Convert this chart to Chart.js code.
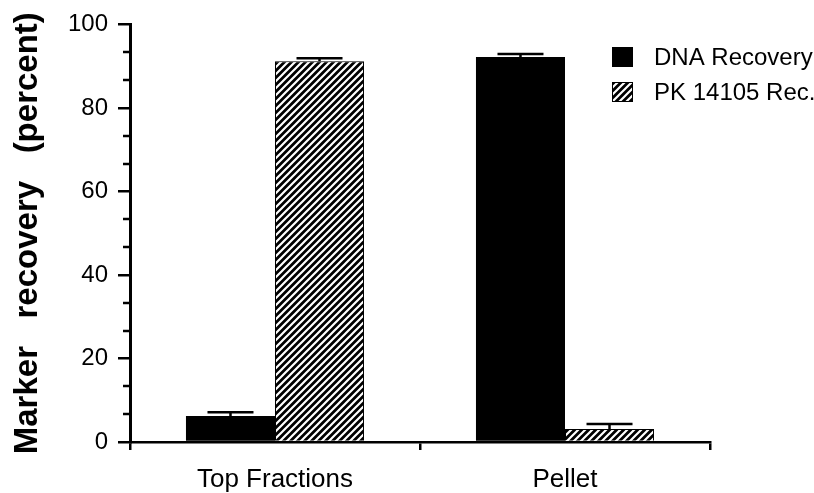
<!DOCTYPE html>
<html>
<head>
<meta charset="utf-8">
<script src="https://cdn.jsdelivr.net/npm/chart.js@4"></script>
<style>
  html, body { margin: 0; padding: 0; background: #fff; }
  #wrap { width: 814px; height: 493px; position: relative; }
</style>
</head>
<body>
<div id="wrap"><canvas id="c" width="814" height="493"></canvas></div>
<script>
// ---- data ----
const categories = ["Top Fractions", "Pellet"];
const seriesNames = ["DNA Recovery", "PK 14105 Rec."];
const dnaRecovery = [6.2, 92.2];
const dnaError = [0.9, 0.7];
const pkRecovery = [91.2, 3.1];
const pkError = [0.7, 1.2];
const yTicks = [0, 20, 40, 60, 80, 100];
const yMinorTicks = [6.67, 13.33, 26.67, 33.33, 46.67, 53.33, 66.67, 73.33, 86.67, 93.33];
const yTitle = "Marker   recovery   (percent)";

// ---- hatch pattern ----
function makeHatch() {
  const s = 7;
  const pc = document.createElement('canvas');
  pc.width = s; pc.height = s;
  const p = pc.getContext('2d');
  p.fillStyle = '#000';
  p.fillRect(0, 0, s, s);
  p.strokeStyle = '#fff';
  p.lineWidth = 2.2;
  p.beginPath();
  p.moveTo(-1, s + 1); p.lineTo(s + 1, -1);
  p.moveTo(-1, 1); p.lineTo(1, -1);
  p.moveTo(s - 1, s + 1); p.lineTo(s + 1, s - 1);
  p.stroke();
  return p.createPattern(pc, 'repeat');
}
const ctx = document.getElementById('c').getContext('2d');
const hatch = makeHatch();
const errors = [dnaError, pkError];

const errorBarPlugin = {
  id: 'errorBars',
  afterDatasetsDraw(chart) {
    const c = chart.ctx;
    const ys = chart.scales.y;
    c.save();
    c.strokeStyle = '#000';
    c.lineWidth = 2.5;
    chart.data.datasets.forEach((ds, i) => {
      const meta = chart.getDatasetMeta(i);
      meta.data.forEach((el, j) => {
        const top = ys.getPixelForValue(ds.data[j] + errors[i][j]);
        c.beginPath();
        c.moveTo(el.x, el.y);
        c.lineTo(el.x, top);
        c.moveTo(el.x - 23, top);
        c.lineTo(el.x + 23, top);
        c.stroke();
      });
    });
    c.restore();
  }
};

const minorTickPlugin = {
  id: 'minorTicks',
  afterDraw(chart) {
    const c = chart.ctx;
    const ys = chart.scales.y;
    const x = chart.chartArea.left;
    c.save();
    c.strokeStyle = '#000';
    c.lineWidth = 2.5;
    yMinorTicks.forEach(v => {
      const y = Math.round(ys.getPixelForValue(v));
      c.beginPath();
      c.moveTo(x - 7, y);
      c.lineTo(x, y);
      c.stroke();
    });
    c.restore();
  }
};

const legendPlugin = {
  id: 'customLegend',
  afterDraw(chart) {
    const c = chart.ctx;
    c.save();
    c.font = '24px "Liberation Sans", Arial, sans-serif';
    c.textBaseline = 'middle';
    chart.data.datasets.forEach((ds, i) => {
      const cy = 57 + i * 35;
      c.fillStyle = ds.backgroundColor;
      c.fillRect(612, cy - 10, 21, 20);
      c.strokeStyle = '#000';
      c.lineWidth = 1;
      c.strokeRect(612.5, cy - 9.5, 20, 19);
      c.fillStyle = '#000';
      c.fillText(ds.label, 654, cy + 1);
    });
    c.restore();
  }
};

new Chart(ctx, {
  type: 'bar',
  data: {
    labels: categories,
    datasets: [
      { label: seriesNames[0], data: dnaRecovery, backgroundColor: '#000', borderColor: '#000', borderWidth: 0 },
      { label: seriesNames[1], data: pkRecovery, backgroundColor: hatch, borderColor: '#000', borderWidth: 1 }
    ]
  },
  options: {
    responsive: false,
    animation: false,
    devicePixelRatio: 1,
    layout: { padding: { left: 0, top: 21, right: 104, bottom: 0 } },
    plugins: { legend: { display: false }, tooltip: { enabled: false } },
    datasets: { bar: { barPercentage: 1, categoryPercentage: 0.614 } },
    scales: {
      x: {
        offset: true,
        grid: { display: true, drawOnChartArea: false, drawTicks: true, tickLength: 8, offset: true, color: '#000', lineWidth: 2.5 },
        border: { display: true, color: '#000', width: 2.5 },
        ticks: { color: '#000', padding: 14, font: { size: 26, family: '"Liberation Sans", Arial, sans-serif' }, maxRotation: 0 },
        afterFit(scale) { scale.height = 51; }
      },
      y: {
        min: 0, max: 100,
        afterBuildTicks(scale) { scale.ticks = yTicks.map(v => ({ value: v })); },
        grid: { display: true, drawOnChartArea: false, drawTicks: true, tickLength: 12, color: '#000', lineWidth: 2.5 },
        border: { display: true, color: '#000', width: 3 },
        ticks: { color: '#000', padding: 10, font: { size: 24, family: '"Liberation Sans", Arial, sans-serif' } },
        title: { display: true, text: yTitle, color: '#000', padding: { top: 8, bottom: 0 }, font: { size: 33, weight: 'bold', family: '"Liberation Sans", Arial, sans-serif' } },
        afterFit(scale) { scale.width = 130; }
      }
    }
  },
  plugins: [errorBarPlugin, minorTickPlugin, legendPlugin]
});
</script>
</body>
</html>
